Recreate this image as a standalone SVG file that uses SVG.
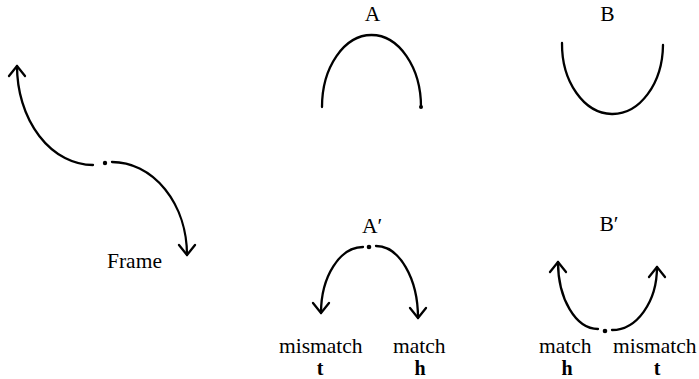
<svg xmlns="http://www.w3.org/2000/svg" width="699" height="379" viewBox="0 0 699 379">
<style>
text{font-family:"Liberation Serif","Times New Roman","DejaVu Serif",serif;font-size:21.5px;fill:#000}
.c{fill:none;stroke:#000;stroke-width:2.3;stroke-linecap:round}
.b{font-weight:bold;font-size:20px}
</style>
<defs>
<marker id="ah" viewBox="-12 -12 24 24" markerWidth="24" markerHeight="24" refX="0" refY="0" orient="auto" markerUnits="userSpaceOnUse" overflow="visible">
<path d="M-10,-8 L0,0 L-10,8" fill="none" stroke="#000" stroke-width="2.3" stroke-linecap="round" stroke-linejoin="round"/>
</marker>
</defs>
<rect width="699" height="379" fill="#fff"/>
<g id="frame">
<path class="c" d="M93,165 A76,99 0 0 1 17,66" marker-end="url(#ah)"/>
<circle cx="105" cy="163" r="2.2"/>
<path class="c" d="M112,162 A75,93 0 0 1 187,255" marker-end="url(#ah)"/>
<text x="107" y="268">Frame</text>
</g>
<g id="A">
<text x="372.5" y="21" text-anchor="middle">A</text>
<path class="c" d="M322,107 A49.5,72 0 0 1 421,107"/>
<circle cx="421" cy="107" r="2"/>
</g>
<g id="B">
<text x="607.5" y="21" text-anchor="middle">B</text>
<path class="c" d="M562,43 A50.5,70 0 0 0 663,45"/>
</g>
<g id="A-prime">
<text x="372" y="233" text-anchor="middle">A′</text>
<circle cx="369" cy="247" r="2.3"/>
<path class="c" d="M363,247 A42,66 0 0 0 321,313" marker-end="url(#ah)"/>
<path class="c" d="M376,246 A42,72 0 0 1 418,318" marker-end="url(#ah)"/>
<text x="279" y="353">mismatch</text>
<text x="320" y="375" text-anchor="middle" class="b">t</text>
<text x="393" y="353">match</text>
<text x="420" y="375" text-anchor="middle" class="b">h</text>
</g>
<g id="B-prime">
<text x="609" y="231" text-anchor="middle">B′</text>
<circle cx="605" cy="331" r="2.3"/>
<path class="c" d="M598,329 A40,67 0 0 1 558,262" marker-end="url(#ah)"/>
<path class="c" d="M612,330 A45,63 0 0 0 657,267" marker-end="url(#ah)"/>
<text x="539" y="353">match</text>
<text x="567" y="375" text-anchor="middle" class="b">h</text>
<text x="613" y="353">mismatch</text>
<text x="657" y="375" text-anchor="middle" class="b">t</text>
</g>
</svg>
